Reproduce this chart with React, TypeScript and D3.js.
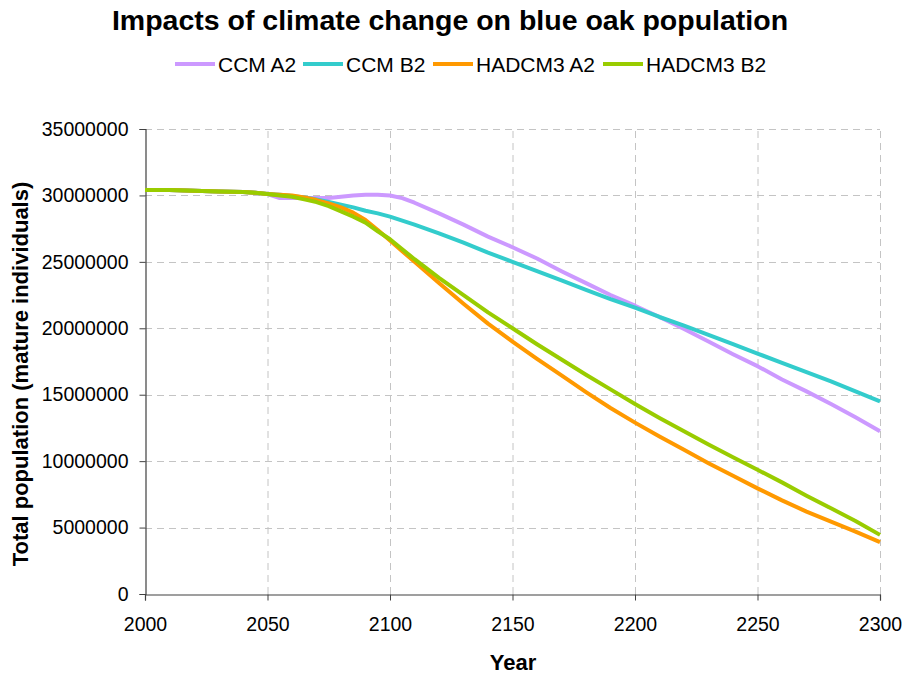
import React, { useEffect, useRef } from "react";
import * as d3 from "d3";

const years = [2000, 2010, 2020, 2030, 2040, 2045, 2050, 2055, 2060, 2065, 2070, 2075, 2080, 2085, 2090, 2095, 2100, 2105, 2110, 2120, 2130, 2140, 2150, 2160, 2170, 2180, 2190, 2200, 2210, 2220, 2230, 2240, 2250, 2260, 2270, 2280, 2290, 2300];

// values in millions of mature individuals
const ccmA2 = [30.4, 30.4, 30.35, 30.3, 30.25, 30.2, 30.1, 29.8, 29.8, 29.8, 29.8, 29.8, 29.9, 30.0, 30.05, 30.05, 30.0, 29.8, 29.45, 28.65, 27.8, 26.9, 26.1, 25.25, 24.3, 23.4, 22.5, 21.7, 20.85, 19.95, 19.0, 18.05, 17.15, 16.15, 15.25, 14.3, 13.3, 12.25];
const ccmB2 = [30.4, 30.4, 30.35, 30.3, 30.25, 30.2, 30.1, 30.05, 29.95, 29.85, 29.7, 29.5, 29.3, 29.1, 28.85, 28.65, 28.4, 28.1, 27.8, 27.15, 26.45, 25.7, 25.0, 24.3, 23.6, 22.9, 22.2, 21.55, 20.85, 20.2, 19.5, 18.8, 18.1, 17.4, 16.7, 16.0, 15.25, 14.5];
const hadA2 = [30.4, 30.4, 30.35, 30.3, 30.25, 30.2, 30.1, 30.05, 30.0, 29.85, 29.65, 29.4, 29.1, 28.7, 28.15, 27.4, 26.6, 25.8, 25.0, 23.4, 21.85, 20.35, 19.0, 17.7, 16.45, 15.2, 14.0, 12.9, 11.85, 10.85, 9.85, 8.9, 7.95, 7.05, 6.2, 5.45, 4.7, 3.9];
const hadB2 = [30.4, 30.4, 30.35, 30.3, 30.25, 30.2, 30.1, 30.0, 29.9, 29.7, 29.5, 29.2, 28.8, 28.4, 27.95, 27.3, 26.7, 25.95, 25.2, 23.8, 22.5, 21.2, 20.0, 18.8, 17.65, 16.5, 15.4, 14.3, 13.25, 12.25, 11.25, 10.3, 9.35, 8.4, 7.4, 6.45, 5.5, 4.45];

const seriesNames = ["CCM A2", "CCM B2", "HADCM3 A2", "HADCM3 B2"];
const seriesColors = ["#CC99FF", "#33CCCC", "#FF9900", "#99CC00"];
const seriesValues = [ccmA2, ccmB2, hadA2, hadB2];

const xTicks = [2000, 2050, 2100, 2150, 2200, 2250, 2300];
const yTicks = [0, 5000000, 10000000, 15000000, 20000000, 25000000, 30000000, 35000000];

const W = 905;
const H = 675;
const M = { left: 145, right: 25, top: 129, bottom: 81 };
const FONT = "Liberation Sans, Arial, sans-serif";

export default function App() {
  const ref = useRef<SVGSVGElement>(null);
  useEffect(() => {
    const svg = d3.select(ref.current);
    svg.selectAll("*").remove();
    const x = d3.scaleLinear().domain([2000, 2300]).range([M.left, W - M.right]);
    const y = d3.scaleLinear().domain([0, 35000000]).range([H - M.bottom, M.top]);

    svg.append("rect").attr("width", W).attr("height", H).attr("fill", "#fff");

    // grid
    const grid = svg.append("g").attr("stroke", "#c4c4c4").attr("stroke-width", 1).attr("stroke-dasharray", "7,5");
    xTicks.filter((t) => t !== 2000).forEach((t) => {
      grid.append("line").attr("x1", x(t) + 0.5).attr("x2", x(t) + 0.5).attr("y1", y(0)).attr("y2", y(35000000));
    });
    yTicks.filter((t) => t !== 0).forEach((t) => {
      grid.append("line").attr("x1", x(2000)).attr("x2", x(2300)).attr("y1", Math.round(y(t)) + 0.5).attr("y2", Math.round(y(t)) + 0.5);
    });

    // axes
    const xAxis = d3.axisBottom(x).tickValues(xTicks).tickFormat(d3.format("d")).tickSize(6).tickPadding(17);
    const gx = svg.append("g").attr("transform", `translate(0,${Math.round(y(0)) + 0.5})`).call(xAxis);
    const yAxis = d3.axisLeft(y).tickValues(yTicks).tickFormat(d3.format("d")).tickSize(6).tickPadding(11);
    const gy = svg.append("g").attr("transform", `translate(${Math.round(x(2000)) + 0.5},0)`).call(yAxis);
    [gx, gy].forEach((g) => {
      g.select(".domain").attr("stroke", "#404040").attr("stroke-width", 1.2);
      g.selectAll(".tick line").attr("stroke", "#404040");
      g.selectAll(".tick text").attr("font-family", FONT).attr("font-size", 19.5).attr("fill", "#000");
    });

    // lines
    const line = d3
      .line<number>()
      .x((_, i) => x(years[i]))
      .y((d) => y(d * 1000000));
    seriesValues.forEach((vals, i) => {
      svg
        .append("path")
        .datum(vals)
        .attr("d", line)
        .attr("fill", "none")
        .attr("stroke", seriesColors[i])
        .attr("stroke-width", 4)
        .attr("stroke-linejoin", "round");
    });

    // title
    svg
      .append("text")
      .attr("x", 450)
      .attr("y", 30)
      .attr("text-anchor", "middle")
      .attr("font-family", FONT)
      .attr("font-weight", "bold")
      .attr("font-size", 28.5)
      .text("Impacts of climate change on blue oak population");

    // legend
    const legendX = [175, 303, 433, 603];
    seriesNames.forEach((name, i) => {
      const g = svg.append("g");
      g.append("line")
        .attr("x1", legendX[i])
        .attr("x2", legendX[i] + 40)
        .attr("y1", 64)
        .attr("y2", 64)
        .attr("stroke", seriesColors[i])
        .attr("stroke-width", 4);
      g.append("text")
        .attr("x", legendX[i] + 43)
        .attr("y", 71.5)
        .attr("font-family", FONT)
        .attr("font-size", 21)
        .text(name);
    });

    // axis titles
    svg
      .append("text")
      .attr("x", 513)
      .attr("y", 670)
      .attr("text-anchor", "middle")
      .attr("font-family", FONT)
      .attr("font-weight", "bold")
      .attr("font-size", 22)
      .text("Year");
    svg
      .append("text")
      .attr("transform", `translate(28,374) rotate(-90)`)
      .attr("text-anchor", "middle")
      .attr("font-family", FONT)
      .attr("font-weight", "bold")
      .attr("font-size", 22)
      .text("Total population (mature individuals)");
  }, []);

  return <svg ref={ref} width={W} height={H} style={{ position: "absolute", left: 0, top: 0 }} />;
}
